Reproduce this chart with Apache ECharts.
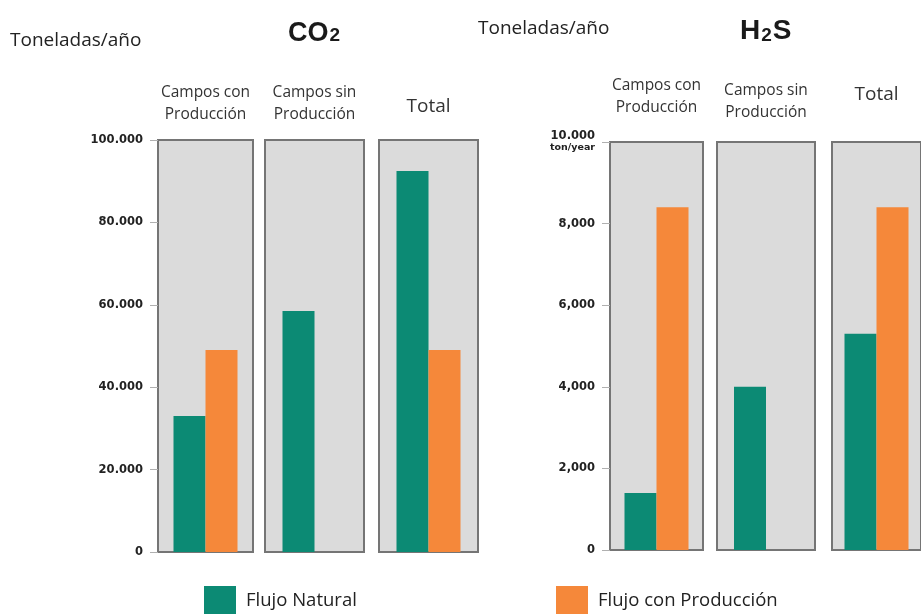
<!DOCTYPE html>
<html>
<head>
<meta charset="utf-8">
<script src="https://cdn.jsdelivr.net/npm/echarts@6/dist/echarts.min.js"></script>
<style>
  html, body { margin: 0; padding: 0; background: #ffffff; }
  #chart { width: 921px; height: 614px; }
</style>
</head>
<body>
<div id="chart"></div>
<script>
// Emission categories shown as separate panels
const categories = ['Campos con\nProducción', 'Campos sin\nProducción', 'Total'];
const seriesNames = ['Flujo Natural', 'Flujo con Producción'];

// CO2 emissions (toneladas/año)
const co2Natural = [33000, 58500, 92500];
const co2Produccion = [49000, null, 49000];

// H2S emissions (toneladas/año)
const h2sNatural = [1400, 4000, 5300];
const h2sProduccion = [8400, null, 8400];

// Tick labels for each value axis
const co2Ticks = ['0', '20.000', '40.000', '60.000', '80.000', '100.000'];
const h2sTicks = ['0', '2,000', '4,000', '6,000', '8,000', '10.000\n{u|ton/year}'];

const GREEN = '#0c8a74';
const ORANGE = '#f5883a';
const LABEL_FONT = '"Open Sans", "Noto Sans", sans-serif';
const TICK_FONT = '"DejaVu Sans", sans-serif';
const TITLE_FONT = '"Liberation Sans", Arial, sans-serif';

// Panel placement (pixels)
const co2Panels = [
  { left: 158, width: 95 },
  { left: 265, width: 99 },
  { left: 379, width: 99 }
];
const h2sPanels = [
  { left: 610, width: 93 },
  { left: 717, width: 98 },
  { left: 832, width: 98 }
];

const grids = [];
const xAxes = [];
const yAxes = [];
const series = [];

function addChart(panels, top, height, max, interval, ticks, natural, produccion, catMargins) {
  panels.forEach((p, i) => {
    const idx = grids.length;
    grids.push({
      left: p.left, top: top, width: p.width, height: height,
      show: true, backgroundColor: '#dbdbdb',
      borderColor: '#757575', borderWidth: 2
    });
    xAxes.push({
      type: 'category', gridIndex: idx, position: 'top',
      data: [categories[i]],
      axisLine: { show: false }, axisTick: { show: false },
      axisLabel: {
        interval: 0, margin: catMargins[i],
        color: '#333', fontFamily: LABEL_FONT,
        fontSize: i === 2 ? 19 : 15.5, lineHeight: 22
      }
    });
    yAxes.push({
      type: 'value', gridIndex: idx, min: 0, max: max, interval: interval,
      show: i === 0,
      splitLine: { show: false },
      axisLine: { show: false },
      axisTick: { show: i === 0, length: 8, lineStyle: { color: '#b0b0b0' } },
      axisLabel: {
        show: i === 0, margin: 15,
        color: '#222', fontWeight: 'bold', fontSize: 11.5,
        fontFamily: TICK_FONT, lineHeight: 11,
        formatter: v => ticks[Math.round(v / interval)],
        rich: { u: { fontSize: 9.5, fontWeight: 'bold', color: '#222', fontFamily: TICK_FONT, lineHeight: 11 } }
      }
    });
    series.push({
      name: seriesNames[0], type: 'bar', xAxisIndex: idx, yAxisIndex: idx,
      data: [natural[i]], barWidth: 32, barGap: '0%',
      itemStyle: { color: GREEN }, silent: true
    });
    series.push({
      name: seriesNames[1], type: 'bar', xAxisIndex: idx, yAxisIndex: idx,
      data: [produccion[i]], barWidth: 32, barGap: '0%',
      itemStyle: { color: ORANGE }, silent: true
    });
  });
}

addChart(co2Panels, 140, 412, 100000, 20000, co2Ticks, co2Natural, co2Produccion, [14, 14, 22]);
addChart(h2sPanels, 142, 408, 10000, 2000, h2sTicks, h2sNatural, h2sProduccion, [23, 18, 36]);

const chart = echarts.init(document.getElementById('chart'), null, { renderer: 'canvas' });
chart.setOption({
  animation: false,
  backgroundColor: '#ffffff',
  title: [
    { text: 'Toneladas/año', left: 10, top: 31, padding: 0,
      textStyle: { fontFamily: LABEL_FONT, fontWeight: 'normal', fontSize: 19, color: '#222' } },
    { text: '{b|CO}{s|2}', left: 288, top: 20, padding: 0,
      textStyle: { rich: {
        b: { fontFamily: TITLE_FONT, fontWeight: 'bold', fontSize: 27, color: '#1a1a1a' },
        s: { fontFamily: TITLE_FONT, fontWeight: 'bold', fontSize: 19, color: '#1a1a1a', verticalAlign: 'bottom', padding: [0, 0, 2, 1] }
      } } },
    { text: 'Toneladas/año', left: 478, top: 19, padding: 0,
      textStyle: { fontFamily: LABEL_FONT, fontWeight: 'normal', fontSize: 19, color: '#222' } },
    { text: '{b|H}{s|2}{b|S}', left: 740, top: 17, padding: 0,
      textStyle: { rich: {
        b: { fontFamily: TITLE_FONT, fontWeight: 'bold', fontSize: 28, color: '#1a1a1a' },
        s: { fontFamily: TITLE_FONT, fontWeight: 'bold', fontSize: 19, color: '#1a1a1a', verticalAlign: 'bottom', padding: [0, 1, 0, 1] }
      } } }
  ],
  legend: [
    { data: [seriesNames[0]], left: 204, top: 586, padding: 0, icon: 'rect',
      itemWidth: 32, itemHeight: 30, itemGap: 10, selectedMode: false,
      textStyle: { fontFamily: LABEL_FONT, fontSize: 18.5, color: '#222', padding: [0, 0, 10, 5] } },
    { data: [seriesNames[1]], left: 556, top: 586, padding: 0, icon: 'rect',
      itemWidth: 32, itemHeight: 30, itemGap: 10, selectedMode: false,
      textStyle: { fontFamily: LABEL_FONT, fontSize: 18.5, color: '#222', padding: [0, 0, 10, 5] } }
  ],
  grid: grids,
  xAxis: xAxes,
  yAxis: yAxes,
  series: series
});
</script>
</body>
</html>
